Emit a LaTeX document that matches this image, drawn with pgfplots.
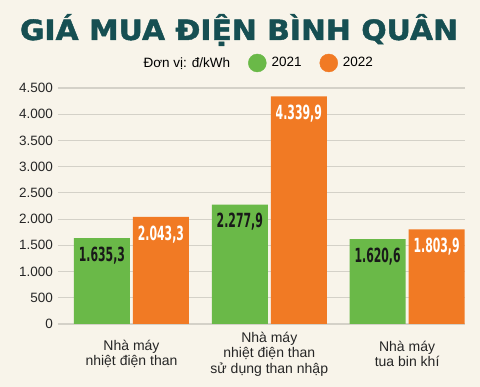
\documentclass[border=0pt]{standalone}
\usepackage{pgfplots}
\pgfplotsset{compat=1.18}
\usepackage{fontspec}
\setmainfont{Liberation Sans}
\newfontfamily\titlefont{DejaVu Sans}[BoldFeatures={FakeBold=1.5}]
\newfontfamily\valfont{DejaVu Sans Condensed}
\definecolor{bg}{RGB}{248,244,234}
\definecolor{c21}{RGB}{106,185,72}
\definecolor{c22}{RGB}{241,122,36}
\definecolor{ttl}{RGB}{22,79,82}
\definecolor{grd}{RGB}{212,209,200}
\begin{document}
\begin{tikzpicture}
\path[use as bounding box, fill=bg] (0,0) rectangle (480pt,387pt);
\node[anchor=base, text=ttl, inner sep=0pt] at (239pt,347pt) {\resizebox{438pt}{\height}{\titlefont\bfseries\fontsize{28}{30}\selectfont GIÁ MUA ĐIỆN BÌNH QUÂN}};
\begin{axis}[
  at={(58pt,63pt)}, anchor=south west,
  scale only axis, width=407pt, height=236pt,
  xmin=-0.533, xmax=2.42, ymin=0, ymax=4500,
  axis line style={draw=none},
  major tick length=0pt,
  ymajorgrids, grid style={grd, line width=1.2pt},
  ytick={0,500,...,4500},
  xtick={0,1,2},
  xticklabels={{Nhà máy\\nhiệt điện than},{Nhà máy\\nhiệt điện than\\sử dụng than nhập},{Nhà máy\\tua bin khí}},
  xticklabel style={align=center, anchor=center, yshift=-30pt, font=\fontsize{14}{15.5}\selectfont, text=black!85},
  yticklabel style={font=\fontsize{13.5}{15}\selectfont, text=black!85, xshift=-1.5pt},
  /pgf/number format/1000 sep={.},
  /pgf/number format/assume math mode=true,
  legend style={at={(0.492,1.106)}, anchor=center, draw=none, fill=none, legend columns=3, font=\fontsize{13.5}{15}\selectfont, /tikz/every even column/.append style={column sep=16pt}},
  point meta=explicit symbolic,
  nodes near coords={\scalebox{0.62}[1]{\pgfplotspointmeta}},
]
\addlegendimage{empty legend}\addlegendentry{Đơn vị: đ/kWh}
\addlegendimage{legend image code/.code={\fill[c21] (9pt,0pt) circle (9pt); \path (21pt,0pt);}}\addlegendentry{2021}
\addlegendimage{legend image code/.code={\fill[c22] (9pt,0pt) circle (9pt); \path (21pt,0pt);}}\addlegendentry{2022}
\addplot[ybar, bar width=56pt, bar shift=-29.5pt, fill=c21, draw=none, forget plot, every node near coord/.append style={anchor=center, xshift=-29.5pt, yshift=-17.5pt, text=black!90, font=\valfont\bfseries\fontsize{19.5}{19.5}\selectfont}] coordinates {(0,1635.3) [1.635,3] (1,2277.9) [2.277,9] (2,1620.6) [1.620,6]};
\addplot[ybar, bar width=56pt, bar shift=29.5pt, fill=c22, draw=none, forget plot, every node near coord/.append style={anchor=center, xshift=29.5pt, yshift=-17.5pt, text=white, font=\valfont\bfseries\fontsize{19.5}{19.5}\selectfont}] coordinates {(0,2043.3) [2.043,3] (1,4339.9) [4.339,9] (2,1803.9) [1.803,9]};
\end{axis}
\end{tikzpicture}
\end{document}
